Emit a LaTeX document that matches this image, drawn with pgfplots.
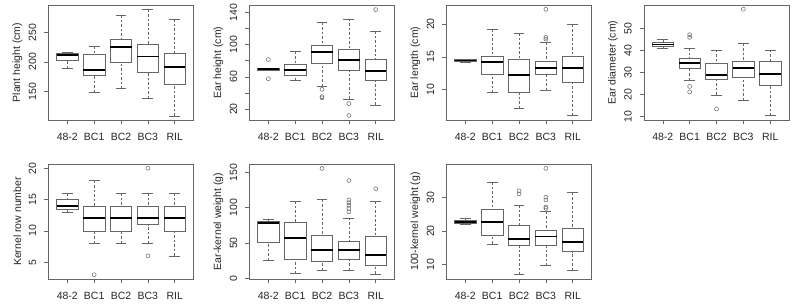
\documentclass[border=0pt]{standalone}
\usepackage{fontspec}
\setmainfont{Liberation Sans}
\usepackage{pgfplots}
\pgfplotsset{compat=1.18}
\usepgfplotslibrary{statistics}

\pgfplotsset{
  rpanel/.style={
    scale only axis, width=145pt, height=115pt,
    anchor=south west,
    xmin=0.3, xmax=5.7,
    xtick={1,2,3,4,5}, xticklabels={48-2,BC1,BC2,BC3,RIL},
    tick align=outside, tick pos=left, major tick length=4.3pt,
    axis line style={black!60, line width=0.7pt},
    every tick/.style={black!60, line width=0.6pt},
    tick label style={font=\fontsize{10.5}{12}\selectfont, black!85},
    /pgf/number format/assume math mode=true,
    y tick label style={rotate=90, anchor=south},
    yticklabel shift=4.5pt, xticklabel shift=5.5pt,
    every axis y label/.style={at={(axis description cs:-0.214,0.5)}, rotate=90, anchor=center, font=\fontsize{10.5}{12}\selectfont, black!85},
    boxplot/draw direction=y,
    boxplot/every median/.style={black, line width=1.8pt},
    boxplot/draw/lower whisker/.code={%
      \draw[black!60, line width=0.6pt, dash pattern=on 2.5pt off 2pt]
        (boxplot cs:\pgfplotsboxplotvalue{lower whisker}) -- (boxplot cs:\pgfplotsboxplotvalue{lower quartile});
      \draw[black!60, line width=0.6pt]
        (boxplot whisker cs:\pgfplotsboxplotvalue{lower whisker},0) -- (boxplot whisker cs:\pgfplotsboxplotvalue{lower whisker},1);
    },
    boxplot/draw/upper whisker/.code={%
      \draw[black!60, line width=0.6pt, dash pattern=on 2.5pt off 2pt]
        (boxplot cs:\pgfplotsboxplotvalue{upper whisker}) -- (boxplot cs:\pgfplotsboxplotvalue{upper quartile});
      \draw[black!60, line width=0.6pt]
        (boxplot whisker cs:\pgfplotsboxplotvalue{upper whisker},0) -- (boxplot whisker cs:\pgfplotsboxplotvalue{upper whisker},1);
    },
  },
  rbp/.style={draw=black!60, line width=0.6pt, mark=o, mark size=2pt,
    mark options={solid, draw=black!60, line width=0.5pt},
    boxplot/box extend=0.8, boxplot/whisker extend=0.4},
}
% #1 position, #2 lower whisker, #3 q1, #4 median, #5 q3, #6 upper whisker
\newcommand{\bx}[6]{\addplot[rbp, boxplot prepared={draw position=#1, lower whisker=#2, lower quartile=#3, median=#4, upper quartile=#5, upper whisker=#6}]}

\begin{document}
\begin{tikzpicture}
\useasboundingbox (0,0) rectangle (792pt,303pt);

% Plant height
\begin{axis}[rpanel, at={(48.5pt,183pt)}, ymin=102, ymax=296, ytick={150,200,250}, ylabel={Plant height (cm)}]
\bx{1}{189}{203}{212}{215}{217} coordinates {};
\bx{2}{149}{177}{187}{212}{226} coordinates {};
\bx{3}{155}{199}{225}{238.6}{279} coordinates {};
\bx{4}{138.6}{182}{209}{230}{288.3} coordinates {};
\bx{5}{109}{161.4}{191}{214}{272.3} coordinates {};
\end{axis}

% Ear height
\begin{axis}[rpanel, at={(249.5pt,183pt)}, ymin=6.5, ymax=149, ytick={20,40,...,140}, yticklabels={20,,60,,100,,140}, ylabel={Ear height (cm)}]
\bx{1}{68.3}{68.6}{69.3}{70.0}{70.3} coordinates {(0,81.4) (0,57.6)};
\bx{2}{55.5}{62.5}{68.3}{76}{91.2} coordinates {};
\bx{3}{48.2}{77.3}{90.4}{99.4}{127.3} coordinates {(0,44.5) (0,35.5) (0,34)};
\bx{4}{32.6}{67.8}{81}{94.1}{131.8} coordinates {(0,26.9) (0,12.1)};
\bx{5}{25.2}{55.1}{67.4}{81.8}{116.2} coordinates {(0,143.3)};
\end{axis}

% Ear length
\begin{axis}[rpanel, at={(446.5pt,183pt)}, ymin=5.37, ymax=22.9, ytick={10,15,20}, ylabel={Ear length (cm)}]
\bx{1}{14.1}{14.3}{14.45}{14.6}{14.65} coordinates {};
\bx{2}{9.54}{12.4}{14.23}{15.15}{19.23} coordinates {};
\bx{3}{7.14}{9.64}{12.19}{14.64}{18.57} coordinates {};
\bx{4}{9.9}{12.3}{13.27}{14.29}{17.14} coordinates {(0,17.96) (0,17.7) (0,22.24)};
\bx{5}{6.02}{11.12}{13.27}{15.15}{19.9} coordinates {};
\end{axis}

% Ear diameter
\begin{axis}[rpanel, at={(644pt,183pt)}, ymin=8.36, ymax=60.6, ytick={10,20,30,40,50}, ylabel={Ear diameter (cm)}]
\bx{1}{41}{41.9}{42.7}{43.6}{44.8} coordinates {};
\bx{2}{26.5}{32}{34.1}{36.3}{41} coordinates {(0,47.1) (0,45.9) (0,23.6) (0,21.1)};
\bx{3}{19.8}{26.8}{28.9}{34}{40.2} coordinates {(0,13.4)};
\bx{4}{17.3}{27.7}{31.8}{34.9}{43} coordinates {(0,58.7)};
\bx{5}{10.3}{24.2}{29.1}{35}{40.2} coordinates {};
\end{axis}

% Kernel row number
\begin{axis}[rpanel, at={(48.5pt,24pt)}, ymin=2.32, ymax=20.68, ytick={5,10,15,20}, ylabel={Kernel row number}]
\bx{1}{13}{13.5}{14}{15}{16} coordinates {};
\bx{2}{8}{10}{12}{14}{18} coordinates {(0,3)};
\bx{3}{8}{10}{12}{14}{16} coordinates {};
\bx{4}{8}{11}{12}{14}{16} coordinates {(0,20) (0,6)};
\bx{5}{6}{10}{12}{14}{16} coordinates {};
\end{axis}

% Ear-kernel weight
\begin{axis}[rpanel, at={(249.5pt,24pt)}, ymin=-1, ymax=162, ytick={0,50,100,150}, ylabel={Ear-kernel weight (g)}]
\bx{1}{25.3}{51.5}{78.1}{81}{84.3} coordinates {};
\bx{2}{6.7}{26.7}{57.2}{80}{109} coordinates {};
\bx{3}{11.5}{23.9}{39.6}{61}{111.4} coordinates {(0,155.7)};
\bx{4}{11.5}{27.2}{40}{52.9}{85.7} coordinates {(0,138.6) (0,111) (0,107.2) (0,103.4) (0,99) (0,94.3)};
\bx{5}{6.2}{18.1}{33.4}{60}{109.5} coordinates {(0,127)};
\end{axis}

% 100-kernel weight
\begin{axis}[rpanel, at={(446.5pt,24pt)}, ymin=5.73, ymax=40, ytick={10,20,30}, ylabel={100-kernel weight (g)}]
\bx{1}{22.1}{22.4}{22.7}{23.2}{23.7} coordinates {};
\bx{2}{16.2}{18.7}{22.8}{26.4}{34.6} coordinates {};
\bx{3}{7}{15.7}{17.6}{21.8}{27.7} coordinates {(0,32) (0,31.1)};
\bx{4}{9.7}{15.7}{18.4}{20.2}{25.8} coordinates {(0,38.7) (0,30.1) (0,29.3) (0,27.2) (0,26.8)};
\bx{5}{8.4}{13.9}{16.8}{20.9}{31.5} coordinates {};
\end{axis}
\end{tikzpicture}
\end{document}
